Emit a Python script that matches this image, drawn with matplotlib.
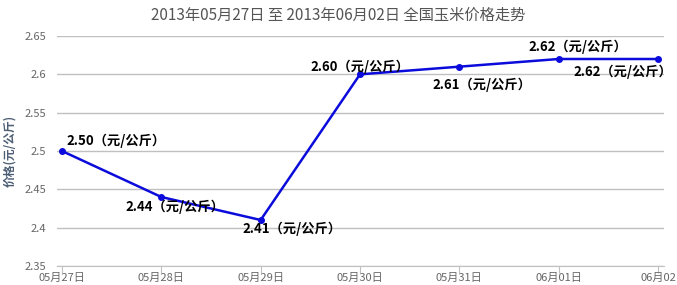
import matplotlib
matplotlib.use("Agg")
import matplotlib.pyplot as plt

plt.rcParams['font.family'] = ['Noto Sans CJK SC', 'DejaVu Sans']

categories = ["05月27日", "05月28日", "05月29日", "05月30日", "05月31日", "06月01日", "06月02"]
prices = [2.50, 2.44, 2.41, 2.60, 2.61, 2.62, 2.62]
yticks = [2.35, 2.4, 2.45, 2.5, 2.55, 2.6, 2.65]
ytick_labels = ["2.35", "2.4", "2.45", "2.5", "2.55", "2.6", "2.65"]
title = "2013年05月27日 至 2013年06月02日 全国玉米价格走势"
ylabel = "价格(元/公斤)"
unit = "（元/公斤）"

# label placement (offset in pixels, horizontal alignment)
offsets = [(5, 10, 'left'), (14, -10, 'center'), (31, -9, 'center'),
           (0, 8, 'center'), (23, -18, 'center'), (19, 12, 'center'), (-35, -13, 'center')]

fig = plt.figure(figsize=(6.77, 2.85), dpi=100)
ax = fig.add_axes([57/677, 19/285, (664-57)/677, (266-36)/285])

x = list(range(len(categories)))
ax.plot(x, prices, color='#0b0bdc', lw=1.8, marker='o', ms=4, zorder=3, clip_on=False)

for xi, v, (dx, dy, ha) in zip(x, prices, offsets):
    ax.annotate(f"{v:.2f}{unit}", (xi, v), xytext=(dx, dy), textcoords='offset pixels',
                ha=ha, va='center', fontsize=9.5, fontweight='bold', color='black',
                annotation_clip=False, zorder=4)

ax.set_xlim(-0.05, 6.06)
ax.set_ylim(2.35, 2.65)
ax.set_yticks(yticks)
ax.set_yticklabels(ytick_labels)
ax.set_xticks(x)
ax.set_xticklabels(categories)
ax.grid(axis='y', color='#c0c0c0', lw=1)
ax.set_axisbelow(True)
for s in ['top', 'right', 'left']:
    ax.spines[s].set_visible(False)
ax.spines['bottom'].set_color('#c0c0c0')
ax.tick_params(axis='y', length=0, labelsize=8, labelcolor='#666666', pad=8)
ax.tick_params(axis='x', length=5, color='#c0c0c0', labelsize=8, labelcolor='#666666', pad=0)

ax.set_ylabel(ylabel, fontsize=8.5, color='#4d5e75', fontweight='bold', labelpad=6)
fig.text(338/677, 1 - 15/285, title, ha='center', va='center', fontsize=11, color='#555555')

fig.savefig("out.png", dpi=100)
